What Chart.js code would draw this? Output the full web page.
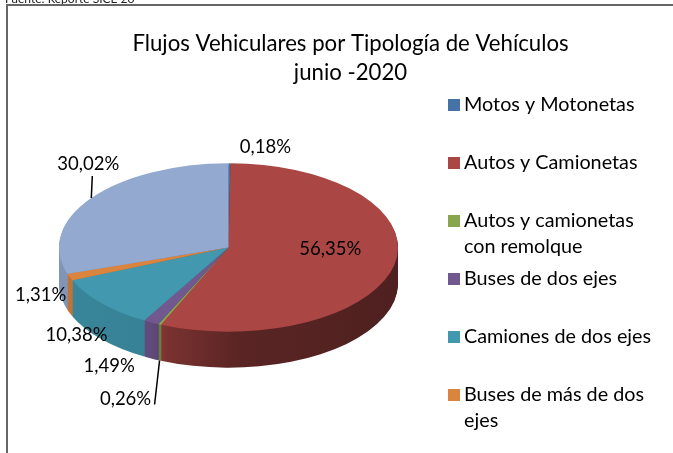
<!DOCTYPE html>
<html>
<head>
<meta charset="utf-8">
<title>Flujos Vehiculares</title>
<script src="https://cdn.jsdelivr.net/npm/chart.js@4"></script>
<style>
body{margin:0;background:#fff}
canvas{display:block}
</style>
</head>
<body>
<canvas id="mychart" width="673" height="453"></canvas>
<script>
var titleLines=["Flujos Vehiculares por Tipología de Vehículos","junio -2020"]
var source="Fuente: Reporte SICE 20"
var categories=["Motos y Motonetas","Autos y Camionetas",["Autos y camionetas","con remolque"],"Buses de dos ejes","Camiones de dos ejes",["Buses de más de dos","ejes"]]
var values=[0.18,56.35,0.26,1.49,10.38,1.31,30.02]
var valueLabels=["0,18%","56,35%","0,26%","1,49%","10,38%","1,31%","30,02%"]
var colors=["#4572A7","#AA4643","#89A54E","#71588F","#4198AF","#DB843D","#93A9CF"]

var font="Lato, Carlito, sans-serif"
var squash=0.497   // flatten the round pie into the tilted ellipse
var depth=36
var pieX=228.5
var pieY=247.5

// label position from the slice's outer edge, dx/dy
var labelShift=[[36,-16],[-64,-16],[-34,75],[-42,44],[-25,32],[-29,18],[-3,-34]]
// leader lines from the edge point, only two slices have one
var leaders={2:[0,36,-5,80],6:[0,0,1,-22]}

function shade(hex,f){
  var n=parseInt(hex.slice(1),16)
  return "rgb("+Math.round((n>>16)*f)+","+Math.round(((n>>8)&255)*f)+","+Math.round((n&255)*f)+")"
}

function flatten(ctx,el,down){
  ctx.translate(pieX,pieY+down)
  ctx.scale(1,squash)
  ctx.translate(-el.x,-el.y)
}

function edgePoint(el){
  var a=(el.startAngle+el.endAngle)/2
  return {x:pieX+el.outerRadius*Math.cos(a),y:pieY+el.outerRadius*squash*Math.sin(a)}
}

var pie3d={
  id:"pie3d",
  afterLayout:function(chart){
    // title sits over the whole frame, not over the pie
    chart.titleBlock.left=28
    chart.titleBlock.right=673
  },
  beforeDraw:function(chart){
    var ctx=chart.ctx
    ctx.save()
    ctx.fillStyle="#fff"
    ctx.fillRect(0,0,673,453)
    ctx.font="12px "+font
    ctx.fillStyle="#222"
    ctx.textBaseline="alphabetic"
    ctx.fillText(source,5,3)
    ctx.strokeStyle="#666"
    ctx.lineWidth=2
    ctx.beginPath()
    ctx.moveTo(7,453)
    ctx.lineTo(7,5)
    ctx.lineTo(673,5)
    ctx.stroke()
    ctx.restore()
  },
  beforeDatasetsDraw:function(chart){
    var ctx=chart.ctx
    var arcs=chart.getDatasetMeta(0).data
    // side wall, stacked copies of every arc going down
    var walls=arcs.map(function(el,i){
      var g=ctx.createLinearGradient(59,0,398,0)
      g.addColorStop(0,shade(colors[i],0.88))
      g.addColorStop(0.27,shade(colors[i],0.85))
      g.addColorStop(0.32,shade(colors[i],0.72))
      g.addColorStop(0.53,shade(colors[i],0.53))
      g.addColorStop(1,shade(colors[i],0.46))
      return Object.create(el.options,{backgroundColor:{value:g},borderWidth:{value:0}})
    })
    var keep=arcs.map(function(el){return el.options})
    for(var d=depth;d>=1;d--){
      arcs.forEach(function(el,i){
        el.options=walls[i]
        ctx.save()
        flatten(ctx,el,d)
        el.draw(ctx)
        ctx.restore()
      })
    }
    arcs.forEach(function(el,i){el.options=keep[i]})
    ctx.save()
    flatten(ctx,arcs[0],0)
  },
  afterDatasetsDraw:function(chart){
    var ctx=chart.ctx
    ctx.restore()
    var arcs=chart.getDatasetMeta(0).data

    ctx.save()
    ctx.strokeStyle="#000"
    ctx.lineWidth=1.5
    Object.keys(leaders).forEach(function(k){
      var p=edgePoint(arcs[k])
      var l=leaders[k]
      ctx.beginPath()
      ctx.moveTo(p.x+l[0],p.y+l[1])
      ctx.lineTo(p.x+l[2],p.y+l[3])
      ctx.stroke()
    })

    ctx.fillStyle="#000"
    ctx.font="18.5px "+font
    ctx.textAlign="center"
    ctx.textBaseline="middle"
    arcs.forEach(function(el,i){
      var p=edgePoint(el)
      ctx.fillText(valueLabels[i],p.x+labelShift[i][0],p.y+labelShift[i][1])
    })

    // legend, even 58px pitch no matter how many lines an item has
    var items=Chart.controllers.pie.overrides.plugins.legend.labels.generateLabels(chart)
    ctx.textAlign="left"
    ctx.font="19.8px "+font
    items.forEach(function(item,i){
      var y=105+i*58
      ctx.fillStyle=item.fillStyle
      ctx.fillRect(448,y-6,12,12)
      ctx.fillStyle="#000"
      var lines=[].concat(item.text)
      lines.forEach(function(t,n){
        ctx.fillText(t,464,y+n*26)
      })
    })
    ctx.restore()
  }
}

new Chart(document.getElementById("mychart").getContext("2d"),{
  type:"pie",
  data:{
    labels:categories,
    datasets:[{data:values,backgroundColor:colors,borderWidth:0,clip:false}]
  },
  options:{
    responsive:false,
    animation:false,
    layout:{padding:{left:59,right:275,top:0,bottom:26}},
    plugins:{
      legend:{display:false},
      tooltip:{enabled:false},
      title:{
        display:true,
        text:titleLines,
        color:"#000",
        font:{family:font,size:22.2,weight:"normal",lineHeight:1.32},
        padding:{top:29,bottom:0}
      }
    }
  },
  plugins:[pie3d]
})
</script>
</body>
</html>
